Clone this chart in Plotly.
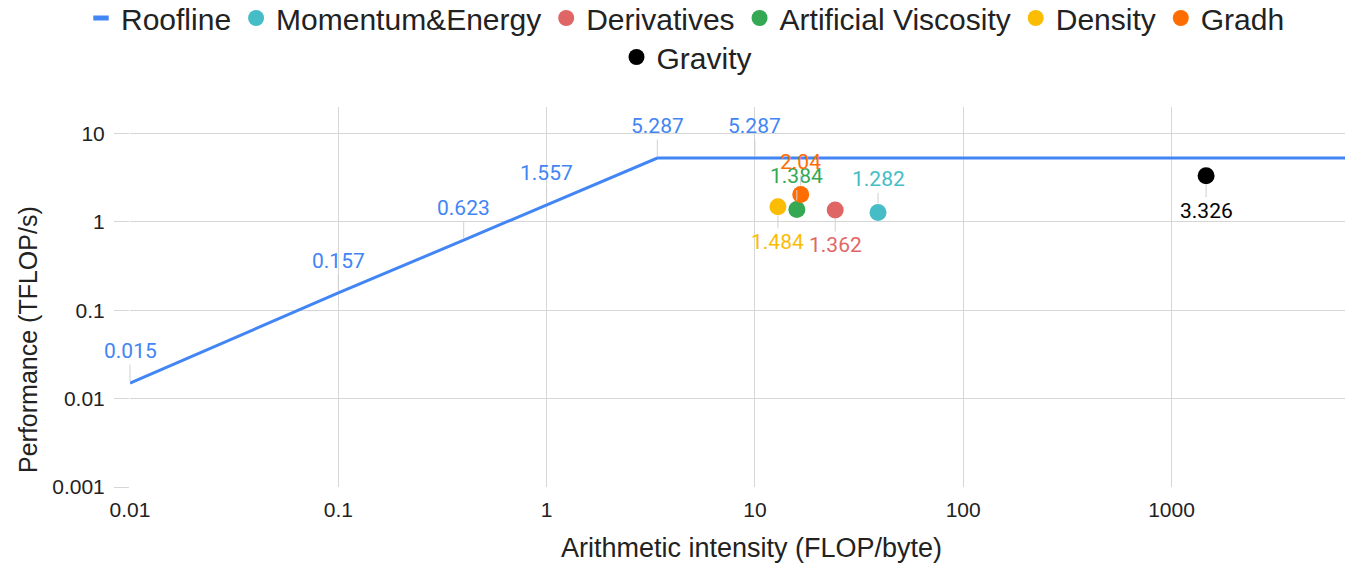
import numpy as np
import plotly.graph_objects as go

# ---------------- data ----------------
roof_x = [0.01, 0.1, 0.4, 1, 3.4, 10, 10000]
roof_y = [0.015, 0.157, 0.623, 1.557, 5.287, 5.287, 5.287]

series_names = ["Momentum&Energy", "Derivatives", "Artificial Viscosity", "Density", "Gradh", "Gravity"]
series_x = [39.0, 24.3, 15.9, 12.9, 16.6, 1466]
series_y = [1.282, 1.362, 1.384, 1.484, 2.04, 3.326]

x_ticks = [0.01, 0.1, 1, 10, 100, 1000]
x_ticktext = ["0.01", "0.1", "1", "10", "100", "1000"]
y_ticks = [0.001, 0.01, 0.1, 1, 10]
y_ticktext = ["0.001", "0.01", "0.1", "1", "10"]

# ---------------- style ----------------
roof_color = "#4285F4"
series_colors = ["#46BDC6", "#E06666", "#34A853", "#FBBC04", "#FF6D01", "#000000"]
label_side = ["above", "below", "above", "below", "above", "below"]
grid = "#d6d6d6"
txt = "#222222"
FONT = "Liberation Sans, Arial, sans-serif"
XMIN, XMAX = -2, 3.833
YMIN, YMAX = -3, np.log10(20)

fig = go.Figure()

fig.add_trace(go.Scatter(x=roof_x, y=roof_y, mode="lines", name="Roofline",
                         line=dict(color=roof_color, width=3), showlegend=False))
# legend entry for roofline (short dash symbol)
fig.add_trace(go.Scatter(x=[None], y=[None], mode="markers", name="Roofline",
                         marker=dict(symbol="line-ew-open", size=11, color=roof_color,
                                     line=dict(color=roof_color, width=6)),
                         legend="legend"))

for i, (n, x, y, c) in enumerate(zip(series_names, series_x, series_y, series_colors)):
    fig.add_trace(go.Scatter(x=[x], y=[y], mode="markers", name=n,
                             marker=dict(color=c, size=17),
                             legend="legend2" if n == "Gravity" else "legend"))

annotations = []
label_font = dict(family="Roboto", size=21)
for x, y in zip(roof_x, roof_y):
    if XMIN <= np.log10(x) <= XMAX:
        annotations.append(dict(x=np.log10(x), y=np.log10(y), xref="x", yref="y",
                                text=f"{y:g}", showarrow=True, ax=0, ay=-32,
                                arrowhead=0, arrowwidth=1, arrowcolor="#d0d0d0",
                                standoff=2, font=dict(color=roof_color, **label_font)))
for x, y, c, s in zip(series_x, series_y, series_colors, label_side):
    annotations.append(dict(x=np.log10(x), y=np.log10(y), xref="x", yref="y",
                            text=f"{y:g}", showarrow=True, ax=0,
                            ay=-33 if s == "above" else 35,
                            arrowhead=0, arrowwidth=1, arrowcolor="#d0d0d0",
                            standoff=9, font=dict(color=c, **label_font)))

annotations.append(dict(text="Arithmetic intensity (FLOP/byte)", xref="paper", yref="paper",
                        x=(751 - 130) / 1215, y=(487 - 548) / 380, xanchor="center",
                        yanchor="middle", showarrow=False,
                        font=dict(family=FONT, size=27, color=txt)))
annotations.append(dict(text="Performance (TFLOP/s)", xref="paper", yref="paper",
                        x=(28 - 130) / 1215, y=(487 - 340) / 380, xanchor="center",
                        yanchor="middle", showarrow=False, textangle=-90,
                        font=dict(family=FONT, size=25, color=txt)))

fig.update_layout(
    width=1345, height=566,
    margin=dict(l=130, r=0, t=107, b=79, autoexpand=False),
    paper_bgcolor="white", plot_bgcolor="white",
    font=dict(family=FONT, color=txt),
    annotations=annotations,
    legend=dict(orientation="h", xref="container", yref="container",
                x=81 / 1345, xanchor="left", y=1 - 18 / 566, yanchor="middle",
                font=dict(family=FONT, size=30, color=txt), itemwidth=30,
                bgcolor="rgba(0,0,0,0)"),
    legend2=dict(orientation="h", xref="container", yref="container",
                 x=687 / 1345, xanchor="center", y=1 - 57 / 566, yanchor="middle",
                 font=dict(family=FONT, size=30, color=txt), itemwidth=30,
                 bgcolor="rgba(0,0,0,0)"),
    xaxis=dict(type="log", range=[XMIN, XMAX], tickvals=x_ticks, ticktext=x_ticktext,
               showgrid=True, gridcolor=grid, gridwidth=1, zeroline=False,
               showline=False, ticks="", ticklabelstandoff=8,
               tickfont=dict(family=FONT, size=21, color=txt)),
    yaxis=dict(type="log", range=[YMIN, YMAX], tickvals=y_ticks, ticktext=y_ticktext,
               showgrid=True, gridcolor=grid, gridwidth=1, zeroline=False,
               showline=False, ticks="outside", ticklen=15, tickcolor=grid,
               ticklabelstandoff=5, tickfont=dict(family=FONT, size=21, color=txt)),
)

fig.write_html("out.html")
